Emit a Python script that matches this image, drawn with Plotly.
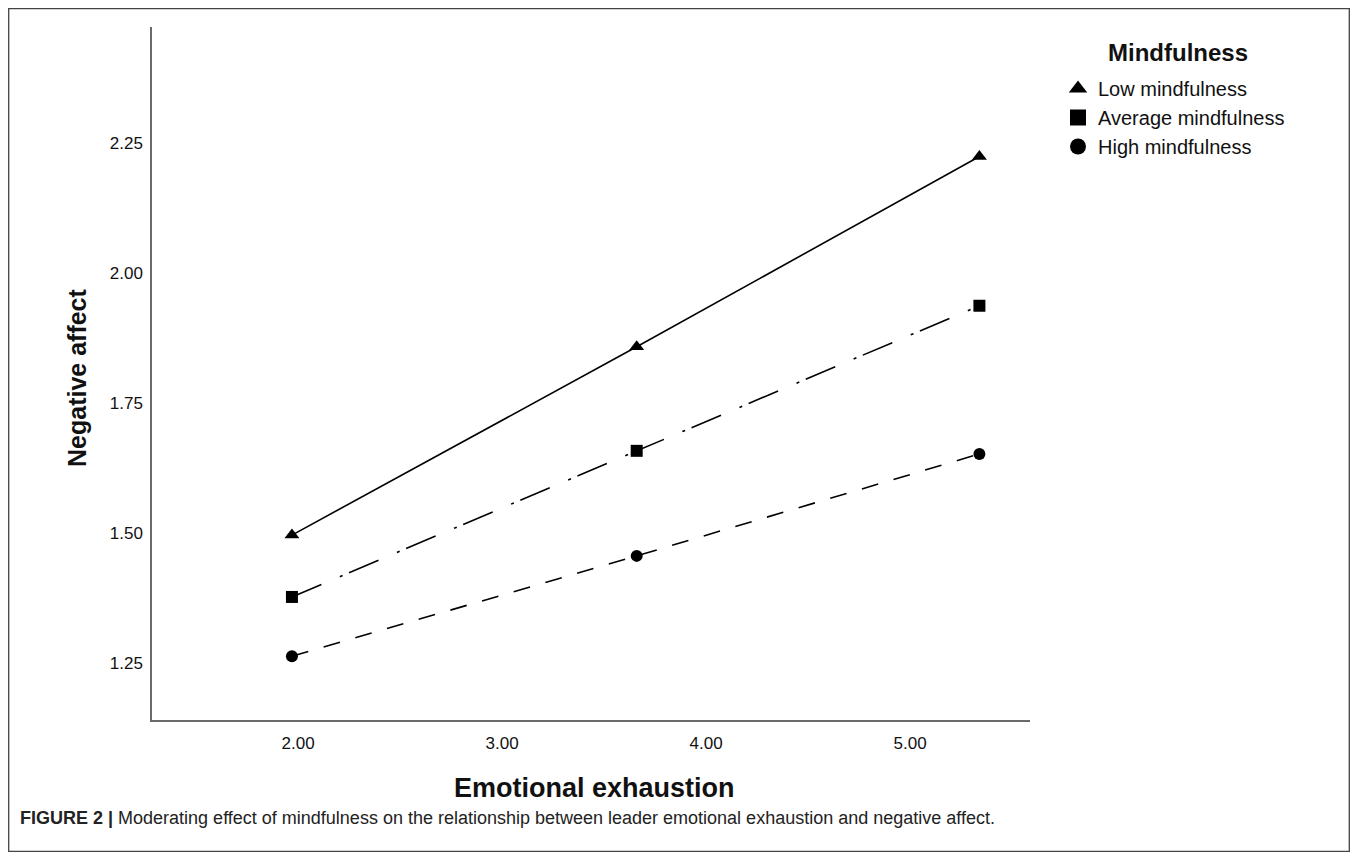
import plotly.graph_objects as go

# ---- data ----
x_values = [1.97, 3.66, 5.34]
low_mindfulness = [1.496, 1.858, 2.224]
average_mindfulness = [1.377, 1.658, 1.937]
high_mindfulness = [1.263, 1.456, 1.652]

series_names = ["Low mindfulness", "Average mindfulness", "High mindfulness"]
x_tick_vals = [2, 3, 4, 5]
x_tick_text = ["2.00", "3.00", "4.00", "5.00"]
y_tick_vals = [1.25, 1.50, 1.75, 2.00, 2.25]
y_tick_text = ["1.25", "1.50", "1.75", "2.00", "2.25"]

FONT = "Liberation Sans, Arial, sans-serif"
OFF = 8  # page body margin
W, H = 1350, 854
L, R, T, B = 144, 328, 19, 142
pw, ph = W - L - R, H - T - B

def px_x(s):
    return (s - OFF - L) / pw

def px_y(s):
    return (H - B - (s - OFF)) / ph

fig = go.Figure()

styles = [
    dict(symbol="triangle-up", size=13, dash="solid", lsym=16),
    dict(symbol="square", size=12, dash="32px,20px,3px,7px", lsym=16),
    dict(symbol="circle", size=12, dash="17px,16px", lsym=16),
]
data = [low_mindfulness, average_mindfulness, high_mindfulness]

for name, ys, st in zip(series_names, data, styles):
    fig.add_trace(go.Scatter(
        x=x_values, y=ys, mode="lines+markers", name=name,
        line=dict(color="black", width=1.6, dash=st["dash"]),
        marker=dict(symbol=st["symbol"], size=st["size"], color="black"),
        showlegend=False, cliponaxis=False,
    ))

for name, st in zip(series_names, styles):
    fig.add_trace(go.Scatter(
        x=[None], y=[None], mode="markers", name=name,
        marker=dict(symbol=st["symbol"], size=st["lsym"], color="black"),
        showlegend=True,
    ))

fig.update_layout(
    width=W, height=H,
    margin=dict(l=L, r=R, t=T, b=B),
    paper_bgcolor="white", plot_bgcolor="white",
    font=dict(family=FONT, color="#111"),
    xaxis=dict(
        range=[1.284, 5.588], showgrid=False, zeroline=False,
        showline=True, linecolor="#6a6a6a", linewidth=1.5, mirror=False,
        tickvals=x_tick_vals, ticktext=x_tick_text, ticks="",
        ticklabelstandoff=7,
        tickfont=dict(size=17, family=FONT, color="#111"),
    ),
    yaxis=dict(
        range=[1.1404, 2.473], showgrid=False, zeroline=False,
        showline=True, linecolor="#6a6a6a", linewidth=1.5, mirror=False,
        tickvals=y_tick_vals, ticktext=y_tick_text, ticks="",
        ticklabelstandoff=4,
        tickfont=dict(size=17, family=FONT, color="#111"),
    ),
    legend=dict(
        x=px_x(1058), y=px_y(69), xanchor="left", yanchor="top",
        font=dict(size=20, family=FONT, color="#111"),
        bgcolor="rgba(0,0,0,0)", borderwidth=0, itemsizing="trace",
        tracegroupgap=0,
    ),
    showlegend=True,
)

annotations = [
    dict(text="<b>Mindfulness</b>", x=px_x(1106), y=px_y(53), xref="paper", yref="paper",
         xanchor="left", yanchor="middle", showarrow=False,
         font=dict(size=24, family=FONT, color="#111")),
    dict(text="<b>Emotional exhaustion</b>", x=px_x(594), y=px_y(788), xref="paper", yref="paper",
         xanchor="center", yanchor="middle", showarrow=False,
         font=dict(size=27, family=FONT, color="#111")),
    dict(text="<b>Negative affect</b>", x=px_x(77), y=px_y(378), xref="paper", yref="paper",
         xanchor="center", yanchor="middle", showarrow=False, textangle=-90,
         font=dict(size=25, family=FONT, color="#111")),
    dict(text="<b>FIGURE 2 |</b> Moderating effect of mindfulness on the relationship between leader emotional exhaustion and negative affect.",
         x=px_x(18), y=px_y(818), xref="paper", yref="paper",
         xanchor="left", yanchor="middle", showarrow=False,
         font=dict(size=18, family=FONT, color="#222")),
]
fig.update_layout(annotations=annotations)

fig.add_shape(type="rect", xref="paper", yref="paper",
              x0=px_x(8.7), x1=px_x(1349.3), y0=px_y(851.3), y1=px_y(8.7),
              line=dict(color="#444", width=1.3), fillcolor="rgba(0,0,0,0)", layer="below")

fig.write_html("out.html")
